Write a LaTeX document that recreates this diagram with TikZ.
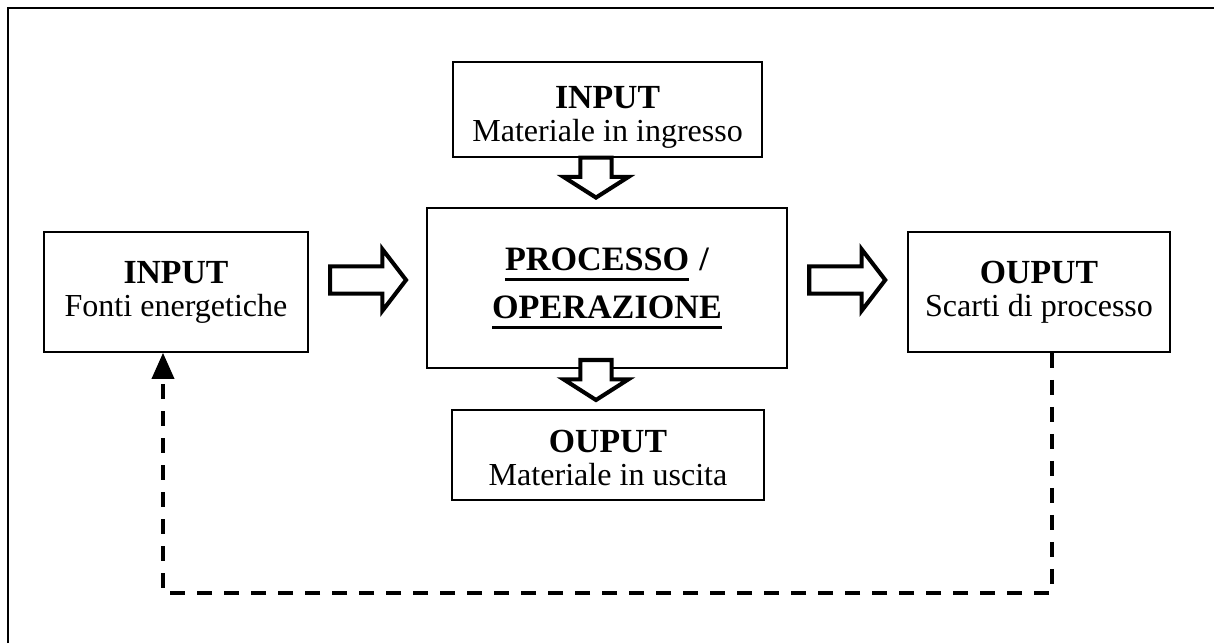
\documentclass[tikz,border=0pt]{standalone}
\usepackage{fontspec}
\setmainfont{Liberation Serif}
\usetikzlibrary{positioning, shapes.arrows, arrows.meta, calc}
\newcommand{\ttl}[1]{{\fontsize{24}{24}\selectfont\bfseries #1}}
\newcommand{\undl}[1]{\setbox0\hbox{#1}\rlap{\rule[-0.3em]{\wd0}{0.08em}}\box0}

\begin{document}
\begin{tikzpicture}[
		box/.style={draw, line width=1.2pt, align=center, inner sep=0pt, font=\fontsize{22.8}{23.5}\selectfont},
		blk/.style={single arrow, draw, fill=white, line width=2.9pt, inner xsep=0pt},
		side/.style={blk, minimum height=1.9cm, inner ysep=0.29cm, single arrow head extend=0.43cm, single arrow tip angle=105},
		down/.style={blk, rotate=-90, minimum height=1.0cm, inner ysep=0.34cm, single arrow head extend=0.42cm, single arrow tip angle=115},
		back/.style={line width=2.6pt, dash pattern=on 0.375cm off 0.3cm, -{Triangle[width=0.55cm,length=0.65cm]}}
	]
		\useasboundingbox (0,0) rectangle (30.35,16.075);
		\draw[line width=1.4pt] (0.2,0) -- (0.2,15.875) -- (30.35,15.875);
		\node[box, minimum width=7.725cm, minimum height=2.375cm, text height=1.78cm] (matin) at (15.19,13.34) {\ttl{INPUT}\\Materiale in ingresso};
		\node[box, minimum width=6.6cm, minimum height=3cm] (fonti) at (4.4,8.775) {\ttl{INPUT}\\Fonti energetiche};
		\node[box, minimum width=9cm, minimum height=4cm, text height=1.79cm, font=\fontsize{24.3}{34}\selectfont\bfseries] (proc) at (15.175,8.875) {\undl{PROCESSO}\hspace{0.3em}/\\\undl{OPERAZIONE}};
		\node[box, minimum width=7.8cm, minimum height=2.25cm, text height=1.51cm] (matout) at (15.2,4.7) {\ttl{OUPUT}\\Materiale in uscita};
		\node[box, minimum width=6.55cm, minimum height=3cm] (scarti) at (25.975,8.775) {\ttl{OUPUT}\\Scarti di processo};
		\node[side] (fp) at (9.07,9.075) {};
		\node[side] (ps) at (21.05,9.075) {};
		\node[down] (mp) at (14.9,11.76) {};
		\node[down] (pm) at (14.9,6.7) {};
		\draw[back] ([xshift=0.325cm]scarti.south) -- ++(0,-6) -| ([xshift=-0.325cm]fonti.south);
	\end{tikzpicture}
\end{document}
